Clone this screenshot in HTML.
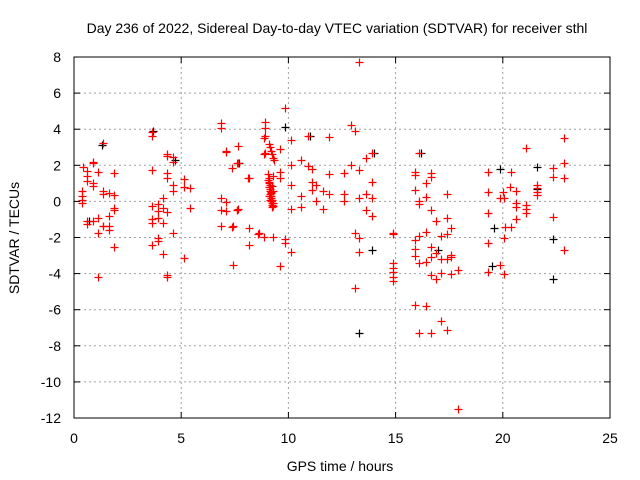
<!DOCTYPE html>
<html><head><meta charset="utf-8"><style>
html,body{margin:0;padding:0;background:#fff;}
svg{display:block;font-family:"Liberation Sans",sans-serif;}
</style></head><body>
<svg id="chart" width="640" height="480" viewBox="0 0 640 480">
<rect width="640" height="480" fill="#fff"/>
<text x="337" y="33" text-anchor="middle" font-size="14" fill="#000">Day 236 of 2022, Sidereal Day-to-day VTEC variation (SDTVAR) for receiver sthl</text>
<g id="grid"></g>
<g id="ticks"></g>
<g id="marks"></g>
<rect x="74" y="57" width="536" height="361" fill="none" stroke="#000" stroke-width="1"/>
<text x="340" y="471" text-anchor="middle" font-size="14">GPS time / hours</text>
<text x="0" y="0" transform="translate(19,238) rotate(-90)" text-anchor="middle" font-size="14">SDTVAR / TECUs</text>
</svg>
<script>
const xTicks=[0,5,10,15,20,25];
const yTicks=[-12,-10,-8,-6,-4,-2,0,2,4,6,8];
const redHours=[0.4,0.39,0.39,0.39,0.39,0.62,0.62,0.62,0.9,0.9,0.9,0.9,1.14,1.37,1.37,1.37,1.37,1.65,1.88,1.88,1.88,1.88,0.62,0.62,0.9,1.14,1.65,1.37,1.65,1.65,1.14,1.88,1.14,
3.63,3.63,3.63,4.36,4.36,4.64,4.64,4.36,4.36,4.64,4.64,5.14,5.14,5.4,4.13,3.63,3.9,3.9,3.9,4.14,4.36,3.63,3.63,4.13,4.64,5.4,3.9,3.9,3.63,4.13,5.14,4.36,4.36,
6.87,6.87,6.87,6.87,6.87,7.1,7.1,7.4,7.4,7.63,7.63,7.63,8.15,8.15,8.15,8.65,8.9,8.9,8.9,8.9,7.09,7.62,7.38,7.62,8.13,8.6,7.38,7.62,7.09,8.87,8.87,8.86,
9.1,9.15,9.2,9.25,9.3,9.35,9.6,9.6,9.6,9.3,9.86,9.86,9.86,10.1,9.6,
9.05,9.08,9.1,9.12,9.15,9.18,9.2,9.22,9.25,9.05,9.08,9.1,9.12,9.15,9.18,9.2,9.22,9.25,9.28,9.3,9.3,9.1,9.15,9.2,9.25,9.3,
10.1,10.9,11.9,10.1,10.6,10.9,11.1,11.9,10.1,11.1,11.3,11.1,11.6,11.9,10.6,11.3,10.1,10.6,11.6,
12.9,13.1,13.6,13.9,12.9,13.3,12.6,13.9,12.6,12.6,13.6,13.3,13.9,13.6,13.9,13.1,13.3,13.3,13.1,13.3,
14.9,14.9,14.9,14.9,14.9,14.9,14.9,
16.1,15.9,15.9,16.65,16.65,16.4,15.9,16.4,16.1,16.1,17.4,16.65,16.9,17.4,17.6,17.4,17.1,16.4,16.1,15.9,15.9,15.9,16.65,16.9,16.65,17.1,17.4,17.6,17.6,16.4,16.1,16.65,16.9,17.1,17.6,17.9,15.9,16.4,17.1,17.4,16.1,16.65,17.9,
19.33,20.36,19.33,20.34,20.03,20.06,19.85,20.6,20.6,20.6,20.6,20.1,20.36,20.07,19.33,19.33,19.33,19.85,20.06,
21.1,21.1,21.1,21.1,21.6,21.6,21.6,21.6,22.35,22.35,22.35,22.85,22.85,22.85,22.85];
const redValues=[1.9,0.55,0.3,0.05,-0.1,1.67,1.4,1.13,2.2,2.1,1.0,0.85,1.62,3.25,0.57,0.43,-1.35,0.48,1.6,0.35,-0.35,-0.5,-1.07,-1.25,-1.1,-0.92,-0.8,-1.35,-1.35,-1.6,-1.75,-2.5,-4.2,
3.87,3.63,1.73,2.6,2.5,2.45,2.2,1.58,1.3,0.9,0.58,1.25,0.8,0.75,0.2,-0.25,-0.15,-0.52,-0.9,-0.38,-0.6,-1.0,-1.17,-1.17,-1.75,-0.35,-2.0,-2.2,-2.4,-2.94,-3.15,-4.05,-4.2,
4.33,4.05,0.17,-0.5,-1.35,2.75,-0.06,-1.35,-3.5,3.08,2.13,-0.4,1.3,-1.45,-2.4,-1.77,4.42,4.05,3.6,2.7,2.8,-0.45,1.86,2.1,1.31,-1.8,-1.4,-0.45,-0.55,3.5,-1.95,2.6,
3.16,3.0,2.8,2.6,2.4,2.3,2.9,1.65,1.28,-1.95,5.16,-2.1,-2.3,-2.8,-3.6,
1.5,1.3,1.1,0.9,0.7,0.5,0.3,0.1,-0.1,1.2,1.0,0.8,0.6,0.4,0.2,0.0,-0.2,-0.3,1.4,0.6,-0.1,0.3,0.05,0.45,0.85,-0.25,
3.4,3.6,3.55,2.0,2.3,1.95,1.8,1.52,0.9,1.05,0.9,0.65,0.6,0.4,0.3,0.03,-0.4,-0.3,-0.4,
4.25,3.9,2.4,2.7,2.0,1.75,1.6,1.05,0.4,0.0,0.4,0.2,0.2,-0.5,-0.8,-1.75,-2.0,-2.8,-4.8,7.74,
-1.78,-3.4,-3.7,-3.9,-4.2,-4.4,-1.75,
2.67,1.65,1.46,1.6,1.37,1.0,0.63,0.22,0.0,-0.17,0.4,-0.48,-1.07,-0.9,-1.45,-1.78,-1.93,-1.7,-1.9,-2.15,-2.65,-3.0,-2.55,-2.85,-3.1,-3.2,-3.2,-2.95,-3.1,-3.35,-3.4,-4.1,-4.3,-3.95,-4.0,-3.8,-5.75,-5.8,-6.65,-7.1,-7.3,-7.3,-11.5,
1.65,1.65,0.54,0.8,0.5,0.17,0.17,0.6,-0.1,-0.33,-0.95,-1.4,-1.4,-2.0,-0.67,-2.33,-3.9,-3.55,-4.0,
2.95,-0.2,-0.4,-0.67,0.9,0.72,0.54,0.35,1.83,1.33,-0.85,3.5,2.15,1.28,-2.7];
const blackHours=[0.7,1.3,3.7,4.7,7.7,9.86,13.3,13.9,14.0,17.0,19.85,19.6,19.5,21.6,21.6,22.35,22.35,11.0,16.2];
const blackValues=[-1.1,3.1,3.9,2.3,2.1,4.1,-7.3,-2.7,2.7,-2.7,1.8,-1.5,-3.6,1.9,0.7,-2.1,-4.3,3.6,2.7];

const X0=74,X1=610,Y0=418,Y1=57;
function xs(h){return X0+(h-0)/(25-0)*(X1-X0);}
function ys(v){return Y0-(v-(-12))/(8-(-12))*(Y0-Y1);}
const NS='http://www.w3.org/2000/svg';
const grid=document.getElementById('grid'),ticks=document.getElementById('ticks'),marks=document.getElementById('marks');
function mk(tag,attrs,parent){const e=document.createElementNS(NS,tag);for(const k in attrs)e.setAttribute(k,attrs[k]);parent.appendChild(e);return e;}
xTicks.forEach(t=>{const x=xs(t);
 if(t>0&&t<25){const g=mk('line',{x1:x,x2:x,y1:Y1,y2:Y0,stroke:'#a0a0a0','stroke-dasharray':'2,3'},grid);
 
 }
 const a=mk('line',{x1:x,x2:x,y1:Y0,y2:Y0-6,stroke:'#000'},ticks);
 
 
 const b=mk('line',{x1:x,x2:x,y1:Y1,y2:Y1+6,stroke:'#000'},ticks);
 
 
 const l=mk('text',{x:x,y:443,'text-anchor':'middle','font-size':'14'},ticks);l.textContent=t;
 
 
});
yTicks.forEach(t=>{const y=ys(t);
 if(t>-12&&t<8){const g=mk('line',{x1:X0,x2:X1,y1:y,y2:y,stroke:'#a0a0a0','stroke-dasharray':'2,3'},grid);
 
 }
 const a=mk('line',{x1:X0,x2:X0+6,y1:y,y2:y,stroke:'#000'},ticks);
 
 
 const b=mk('line',{x1:X1,x2:X1-6,y1:y,y2:y,stroke:'#000'},ticks);
 
 
 const l=mk('text',{x:61,y:y+5,'text-anchor':'end','font-size':'14'},ticks);l.textContent=t;
 
 
});
function cross(h,v,color,name){const x=Math.round(xs(h))+0.5,y=Math.round(ys(v))+0.5;
 const p=mk('path',{d:`M${x-4},${y}H${x+4}M${x},${y-4}V${y+4}`,stroke:color,'stroke-width':'1.2',fill:'none'},marks);
 
 }
blackHours.forEach((h,i)=>cross(h,blackValues[i],'#000','point-black'));
redHours.forEach((h,i)=>cross(h,redValues[i],'#f00','point-red'));
</script>
</body></html>
